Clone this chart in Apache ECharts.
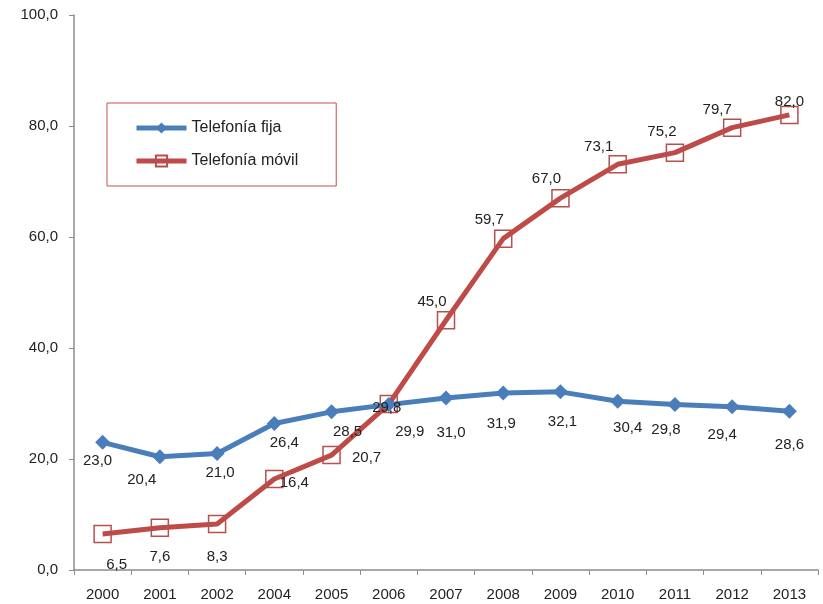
<!DOCTYPE html>
<html>
<head>
<meta charset="utf-8">
<script src="https://cdn.jsdelivr.net/npm/echarts@6/dist/echarts.min.js"></script>
<style>
html,body{margin:0;padding:0;background:#fff;}
#chart{width:823px;height:604px;}
</style>
</head>
<body>
<div id="chart"></div>
<script>
var categories = ['2000','2001','2002','2004','2005','2006','2007','2008','2009','2010','2011','2012','2013'];
var telefoniaFija = [23.0, 20.4, 21.0, 26.4, 28.5, 29.8, 31.0, 31.9, 32.1, 30.4, 29.8, 29.4, 28.6];
var telefoniaMovil = [6.5, 7.6, 8.3, 16.4, 20.7, 29.9, 45.0, 59.7, 67.0, 73.1, 75.2, 79.7, 82.0];
var yTicks = [0, 20, 40, 60, 80, 100];

// label placement offsets (pixels) relative to each point
var fijaLabelOffsets = [[-5,19],[-18,23],[3,19],[10,19],[16,20],[-2,3],[5,35],[-2,31],[2,30],[10,27],[-9,25],[-10,28],[0,34]];
var movilLabelOffsets = [[14,31],[0,29],[0,33],[20,4],[35,3],[21,28],[-14,-18],[-14,-19],[-14,-19],[-19,-17],[-13,-21],[-15,-18],[0,-13]];

function fmt(v){ return v.toFixed(1).replace('.', ','); }

function buildData(values, offsets){
  return values.map(function(v, i){
    return { value: v, label: { offset: offsets[i] } };
  });
}

var FONT = 'Liberation Sans, Arial, sans-serif';
var chart = echarts.init(document.getElementById('chart'));
chart.setOption({
  backgroundColor: '#ffffff',
  animation: false,
  textStyle: { fontFamily: FONT },
  grid: { left: 74, right: 5, top: 15, bottom: 34, containLabel: false },
  legend: {
    orient: 'vertical',
    left: 107, top: 103,
    padding: [17, 38, 17, 27],
    itemGap: 17,
    itemWidth: 50, itemHeight: 14,
    borderColor: '#C0504D', borderWidth: 1,
    lineStyle: { width: 5 },
    textStyle: { fontSize: 16, color: '#222', fontFamily: FONT },
    data: ['Telefonía fija', 'Telefonía móvil']
  },
  xAxis: {
    type: 'category',
    data: categories,
    boundaryGap: true,
    axisLine: { lineStyle: { color: '#8c8c8c', width: 1.5 } },
    axisTick: { show: true, alignWithLabel: false, length: 5, lineStyle: { color: '#8c8c8c' } },
    axisLabel: { fontSize: 15, color: '#222', margin: 17, fontFamily: FONT }
  },
  yAxis: {
    type: 'value',
    min: 0, max: 100, interval: 20,
    splitLine: { show: false },
    axisLine: { show: true, lineStyle: { color: '#8c8c8c', width: 1.5 } },
    axisTick: { show: true, length: 5, lineStyle: { color: '#8c8c8c' } },
    axisLabel: {
      fontSize: 15, color: '#222', margin: 16, fontFamily: FONT,
      formatter: function(v){ return yTicks.indexOf(v) >= 0 ? fmt(v) : ''; }
    }
  },
  series: [
    {
      name: 'Telefonía fija',
      type: 'line',
      data: buildData(telefoniaFija, fijaLabelOffsets),
      symbol: 'diamond',
      symbolSize: 15,
      lineStyle: { color: '#4A7EBB', width: 5 },
      itemStyle: { color: '#4A7EBB' },
      label: {
        show: true, position: 'inside', fontSize: 15, color: '#222', fontFamily: FONT,
        formatter: function(p){ return fmt(p.value); }
      },
      z: 3
    },
    {
      name: 'Telefonía móvil',
      type: 'line',
      data: buildData(telefoniaMovil, movilLabelOffsets),
      symbol: 'rect',
      symbolSize: 17,
      lineStyle: { color: '#BE4B48', width: 5 },
      itemStyle: { color: 'rgba(255,255,255,0)', borderColor: '#B5504D', borderWidth: 1.5 },
      label: {
        show: true, position: 'inside', fontSize: 15, color: '#222', fontFamily: FONT,
        formatter: function(p){ return fmt(p.value); }
      },
      z: 2
    }
  ]
});
</script>
</body>
</html>
